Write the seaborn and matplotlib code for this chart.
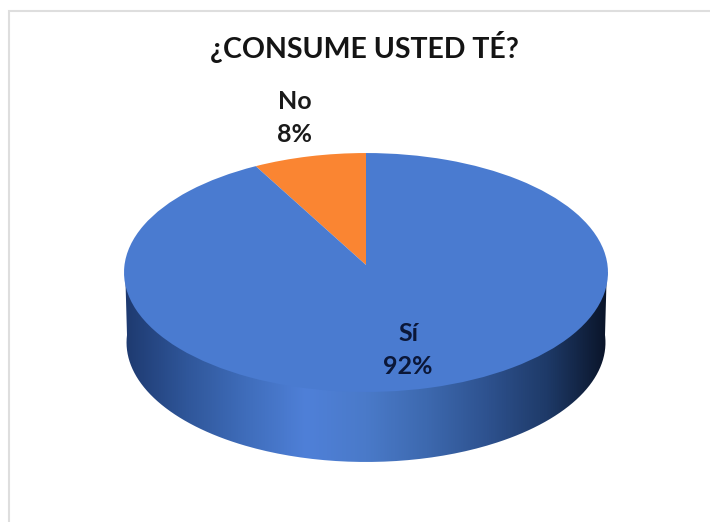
import numpy as np
import matplotlib
matplotlib.use("Agg")
import matplotlib.pyplot as plt
import matplotlib.transforms as mtransforms
from matplotlib.path import Path
from matplotlib.patches import PathPatch
import seaborn as sns

# Survey results
categories = ["No", "Sí"]
percentages = [8, 92]
title_text = "¿CONSUME USTED TÉ?"

slice_colors = ["#FA8532", "#4A7BD0"]
wall_stops = ["#1E3A70", "#2F5699", "#3F6DBB", "#4F80D8", "#4A7AC9",
              "#3D69AF", "#2E528F", "#1E3A68", "#0A1428"]

sns.set_theme(style="white")
plt.rcParams["font.family"] = ["Lato", "DejaVu Sans"]


class TiltedDisc(mtransforms.Transform):
    """Projects the unit disc as if seen from above, with the far side shrunk."""
    input_dims = 2
    output_dims = 2
    has_inverse = False

    def __init__(self, k=0.0628):
        super().__init__()
        self.k = k

    def transform_non_affine(self, xy):
        xy = np.asarray(xy, dtype=float)
        d = 1 + self.k * xy[:, 1]
        return np.column_stack([xy[:, 0] / d, xy[:, 1] / d])


fig = plt.figure(figsize=(7.10, 5.22), dpi=100, facecolor="white")
ax = fig.add_axes([0, 0, 1, 1])

CX, CY, RX, RY, DEPTH = 366, 265, 241.5, 119, 70

# Pie top, in unit-disc coordinates
wedges, _ = ax.pie(percentages, colors=slice_colors, startangle=90,
                   counterclock=True, radius=1, center=(0, 0),
                   wedgeprops=dict(linewidth=0))
disc = TiltedDisc()
to_page = mtransforms.Affine2D().scale(RX, -RY).translate(CX, CY) + ax.transData
for w in wedges:
    w.set_transform(disc + to_page)
    w.set_zorder(3)

# Cylinder wall: lower outline of the disc pushed down by the depth
t = np.linspace(np.pi, 2 * np.pi, 200)
rim = disc.transform_non_affine(np.column_stack([np.cos(t), np.sin(t)]))
low_x = CX + rim[:, 0] * (RX - 2.5)
low_y = CY + DEPTH - rim[:, 1] * RY
top_y = CY + 7
wall_xy = np.column_stack([low_x, low_y])
wall_xy = np.vstack([[CX - RX, top_y], [CX - RX + 1, top_y + 10], wall_xy,
                     [CX + RX - 1, top_y + 10], [CX + RX, top_y], [CX - RX, top_y]])
gradient = np.linspace(0, 1, 512)[None, :]
wall_cmap = sns.blend_palette(wall_stops, as_cmap=True)
im = ax.imshow(gradient, cmap=wall_cmap, aspect="auto", zorder=2,
               extent=[CX - RX, CX + RX, low_y.max(), top_y])
im.set_clip_path(PathPatch(Path(wall_xy), transform=ax.transData))

ax.set_xlim(0, 710)
ax.set_ylim(522, 0)
ax.set_aspect("auto")
ax.axis("off")

# Chart frame, visible along the top and left
ax.plot([8.5, 8.5, 710], [522, 10.5, 10.5], color="#DEDEDE", lw=1.5,
        zorder=1, solid_joinstyle="miter")

ax.text(364, 47, title_text, ha="center", va="center", fontsize=20.5,
        fontweight="bold", color="#141414")

label_pos = {"No": (295, 118), "Sí": (408, 350)}
label_colors = {"No": "#1A1A1A", "Sí": "#0B1738"}
for cat, pct in zip(categories, percentages):
    x, y = label_pos[cat]
    ax.text(x, y, f"{cat}\n{pct}%", ha="center", va="center", fontsize=18,
            fontweight="bold", color=label_colors[cat], linespacing=1.5, zorder=5)

fig.savefig("out.png", dpi=100, facecolor="white")
